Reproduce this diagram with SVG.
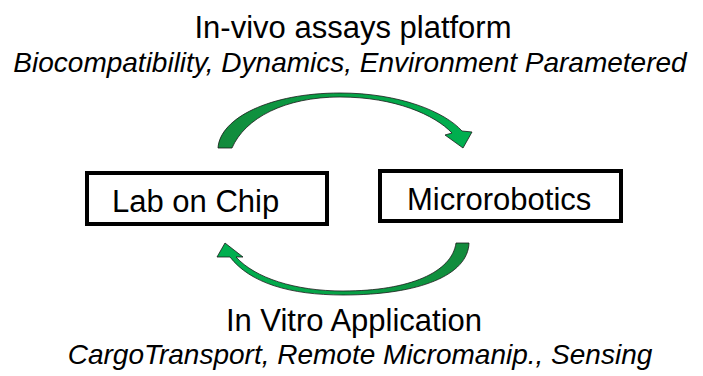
<svg xmlns="http://www.w3.org/2000/svg" width="703" height="376" viewBox="0 0 703 376">
<style>
.t{font-family:"Liberation Sans",Arial,sans-serif;fill:#000}
.h{font-size:31px}
.i{font-size:28px;font-style:italic}
.box{fill:#fff;stroke:#000;stroke-width:4}
.lbl{font-size:31px}
.arr{stroke:#1a1a1a;stroke-width:0.8;stroke-linejoin:miter}
</style>
<defs>
<linearGradient id="gTop" x1="0" y1="0" x2="1" y2="0">
<stop offset="0" stop-color="#138a3c"/>
<stop offset="0.5" stop-color="#06a246"/>
<stop offset="1" stop-color="#00b050"/>
</linearGradient>
<linearGradient id="gBot" x1="0" y1="0" x2="1" y2="0">
<stop offset="0" stop-color="#00b050"/>
<stop offset="0.5" stop-color="#06a246"/>
<stop offset="1" stop-color="#138a3c"/>
</linearGradient>
</defs>
<g id="title-top">
<text class="t h" x="353" y="38" text-anchor="middle">In-vivo assays platform</text>
<text class="t i" x="350" y="72" text-anchor="middle">Biocompatibility, Dynamics, Environment Parametered</text>
</g>
<g id="node-lab">
<rect class="box" x="87" y="173" width="240" height="51"/>
<text class="t lbl" x="112" y="212">Lab on Chip</text>
</g>
<g id="node-micro">
<rect class="box" x="380" y="171" width="241" height="50"/>
<text class="t lbl" x="407" y="210">Microrobotics</text>
</g>
<g id="connectors">
<path class="arr" fill="url(#gTop)" d="M218,148 C220,118 270,93 340,93 C400,93 445,112 462,131 L472,132 L463,148 L445,135 L452,133 C435,115 395,97 340,97 C285,97 245,118 232,148 Z"/>
<path class="arr" fill="url(#gBot)" d="M469,243 C468,275 420,295 343,295 C290,295 250,283 230,257 L217,257 L225,243 L243,257 L236,257 C255,278 295,291 343,291 C410,291 452,272 456,243 Z"/>
</g>
<g id="title-bottom">
<text class="t h" x="354" y="331" text-anchor="middle">In Vitro Application</text>
<text class="t i" x="360" y="364" text-anchor="middle">CargoTransport, Remote Micromanip., Sensing</text>
</g>
</svg>
